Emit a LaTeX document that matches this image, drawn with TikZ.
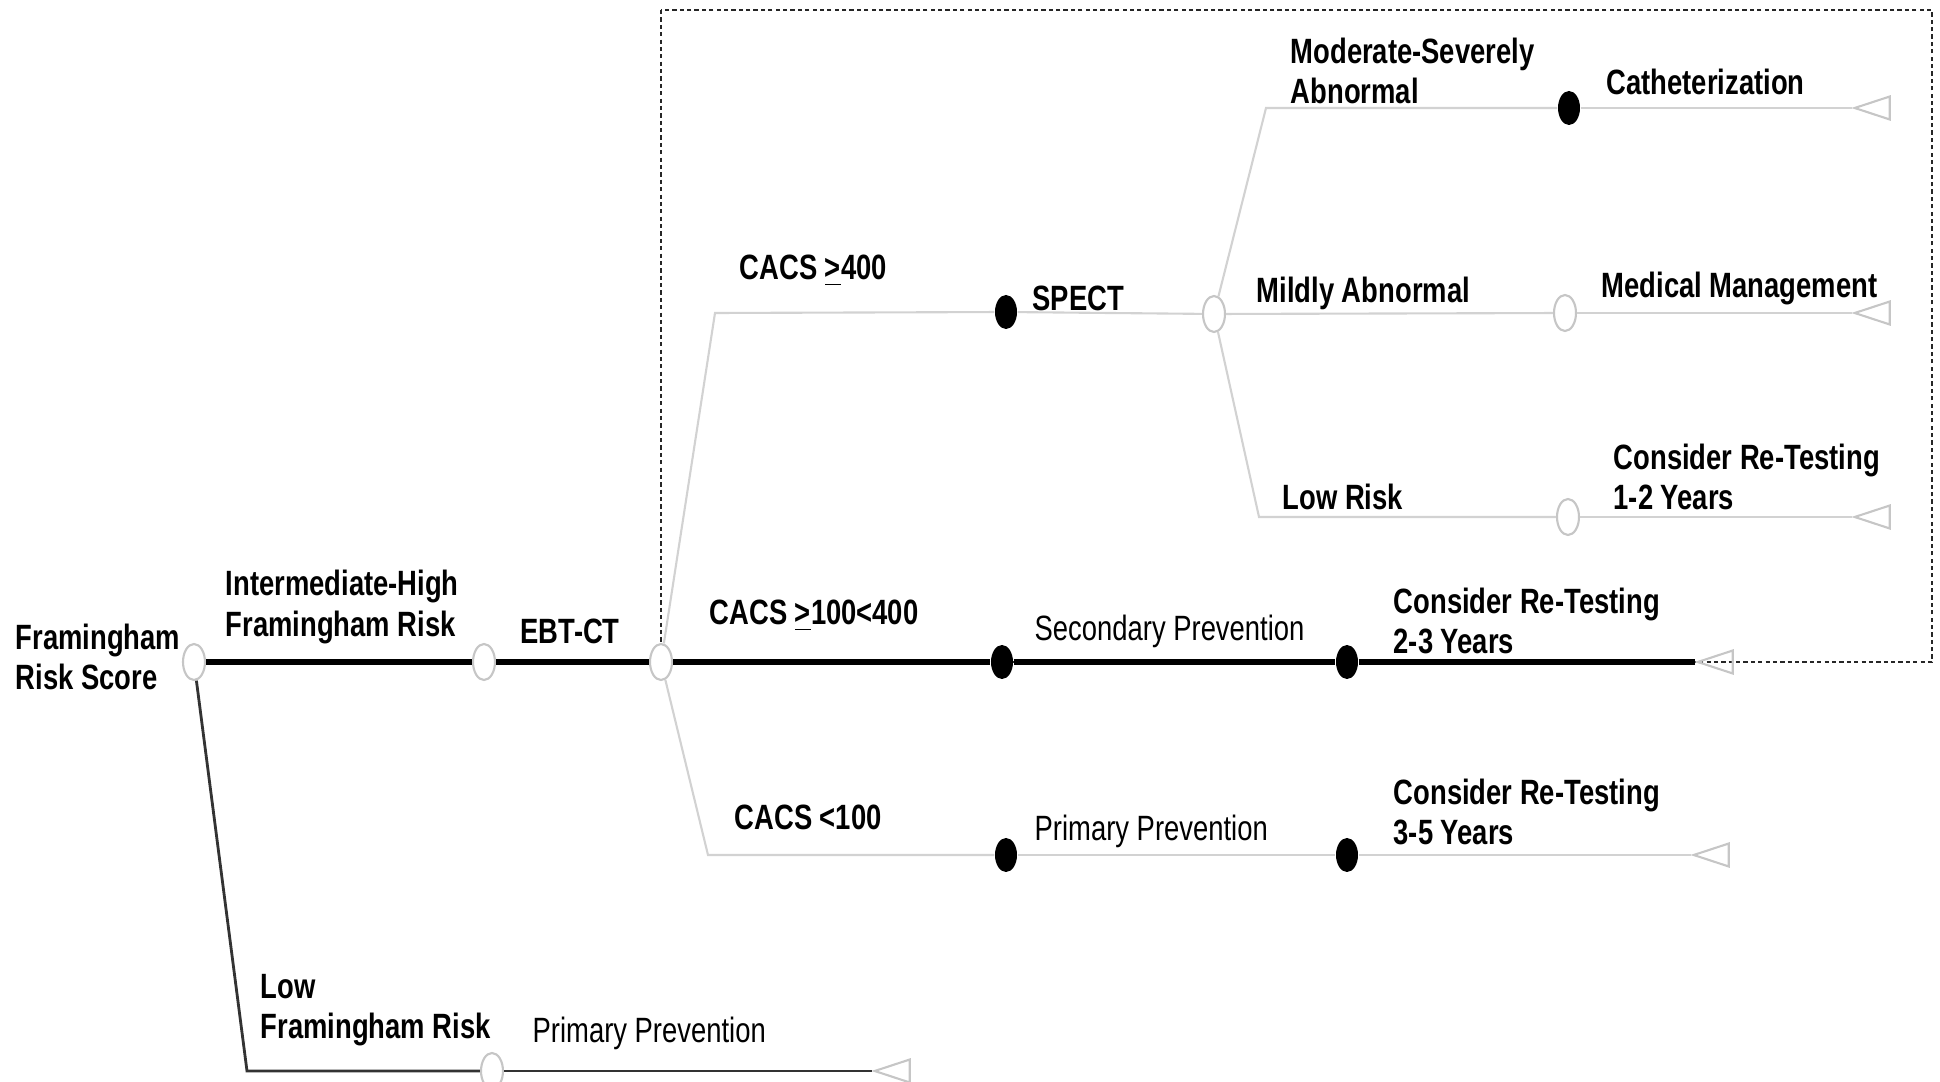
\documentclass[tikz,border=0pt]{standalone}
\usepackage{fontspec}
\setmainfont{Liberation Sans}[FakeStretch=0.78]
\usepackage{tikz}
\usetikzlibrary{shapes.geometric}

\begin{document}
\begin{tikzpicture}[x=0.1mm,y=-0.1mm,
  chance node/.style={ellipse,draw=gray!45,fill=white,line width=0.6pt,minimum width=2.2mm,minimum height=3.6mm,inner sep=0pt},
  event node/.style={ellipse,fill=black,minimum width=2.2mm,minimum height=3.4mm,inner sep=0pt},
  end node/.style={isosceles triangle,isosceles triangle stretches,shape border rotate=180,draw=gray!45,line width=0.6pt,minimum width=2.3mm,minimum height=3.5mm,inner sep=0pt,anchor=apex},
  lbl/.style={anchor=west,inner sep=0pt,align=left,font=\fontsize{10}{11.4}\selectfont\bfseries},
  plain lbl/.style={lbl,font=\fontsize{10}{11.4}\selectfont},
  thin/.style={draw=gray!35,line width=0.6pt},
  main/.style={draw=black,line width=1.5pt},
  low/.style={draw=black!80,line width=0.8pt}]

  \useasboundingbox (0,0) rectangle (1940,1082);
  \draw[black!85,line width=0.6pt,dash pattern=on 1.2pt off 0.9pt] (661,10) rectangle (1932,662);

  % tree nodes
  \node[chance node] (frs) at (194,662) {};
  \node[chance node] (ih) at (484,662) {};
  \node[chance node] (ebt) at (661,662) {};
  \coordinate (c400) at (715,313);
  \node[event node] (spect) at (1006,312) {};
  \node[chance node] (res) at (1214,314) {};
  \coordinate (cmod) at (1266,108);
  \node[event node] (cath) at (1569,108) {};
  \node[end node] (e1) at (1852,108) {};
  \node[chance node] (mild) at (1565,313) {};
  \node[end node] (e2) at (1852,313) {};
  \coordinate (clow) at (1259,517);
  \node[chance node] (lowr) at (1568,517) {};
  \node[end node] (e3) at (1852,517) {};
  \node[event node] (sec) at (1002,662) {};
  \node[event node] (rt23) at (1347,662) {};
  \node[end node] (e4) at (1695,662) {};
  \coordinate (c100) at (708,855);
  \node[event node] (prim) at (1006,855) {};
  \node[event node] (rt35) at (1347,855) {};
  \node[end node] (e5) at (1691,855) {};
  \coordinate (clf) at (247,1071);
  \node[chance node] (lf) at (492,1071) {};
  \node[end node] (e6) at (872,1071) {};

  % connectors
  \path[main] (frs) edge (ih)
              (ih) edge (ebt)
              (ebt) edge (sec)
              (sec) edge (rt23)
              (rt23) edge (e4);
  \draw[thin] (ebt) -- (c400) -- (spect);
  \draw[thin] (spect) -- (res);
  \draw[thin] (res) -- (cmod) -- (cath);
  \draw[thin] (cath) -- (e1);
  \draw[thin] (res) -- (mild);
  \draw[thin] (mild) -- (e2);
  \draw[thin] (res) -- (clow) -- (lowr);
  \draw[thin] (lowr) -- (e3);
  \draw[thin] (ebt) -- (c100) -- (prim);
  \draw[thin] (prim) -- (rt35);
  \draw[thin] (rt35) -- (e5);
  \draw[low] (frs) -- (clf) -- (lf);
  \draw[low] (lf) -- (e6);

  % labels
  \node[lbl] (l1) at (15,657) {Framingham\\Risk Score};
  \node[lbl] (l2) at (225,607) {Intermediate-High\\Framingham Risk};
  \node[lbl] (l3) at (520,631) {EBT-CT};
  \node[lbl] (l4) at (739,271) {CACS \underline{>}400};
  \node[lbl] (l5) at (1032,298) {SPECT};
  \node[lbl] (l6) at (1290,71) {Moderate-Severely\\Abnormal};
  \node[lbl] (l7) at (1606,82) {Catheterization};
  \node[lbl] (l8) at (1256,293) {Mildly Abnormal};
  \node[lbl] (l9) at (1601,288) {Medical Management};
  \node[lbl] (l10) at (1282,497) {Low Risk};
  \node[lbl] (l11) at (1613,477) {Consider Re-Testing\\1-2 Years};
  \node[lbl] (l12) at (709,616) {CACS \underline{>}100<400};
  \node[plain lbl] (l13) at (1034,631) {Secondary Prevention};
  \node[lbl] (l14) at (1393,621) {Consider Re-Testing\\2-3 Years};
  \node[lbl] (l15) at (734,817) {CACS <100};
  \node[plain lbl] (l16) at (1034,831) {Primary Prevention};
  \node[lbl] (l17) at (1393,812) {Consider Re-Testing\\3-5 Years};
  \node[lbl] (l18) at (260,1010) {Low\\Framingham Risk};
  \node[plain lbl] (l19) at (532,1033) {Primary Prevention};

\end{tikzpicture}
\end{document}
